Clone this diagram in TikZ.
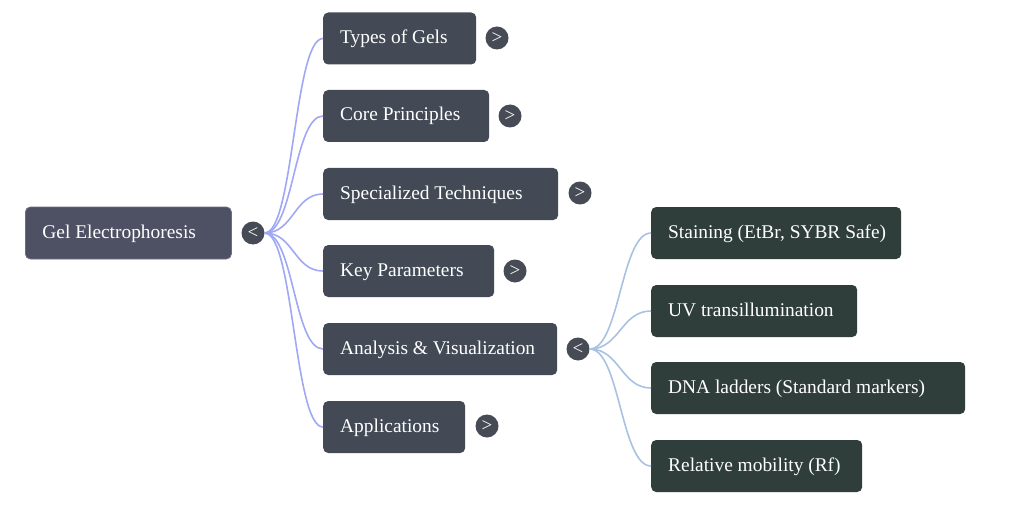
\documentclass[tikz,border=0pt]{standalone}
\usepackage{fontspec}
\setmainfont{Liberation Serif}
\usetikzlibrary{calc}
\definecolor{rootc}{HTML}{4E5064}
\definecolor{rootb}{HTML}{6C6E84}
\definecolor{lonec}{HTML}{434A55}
\definecolor{ltwoc}{HTML}{2F3E3A}
\definecolor{btnc}{HTML}{464B56}
\definecolor{eonec}{HTML}{A0A8F5}
\definecolor{etwoc}{HTML}{A8C2E2}
\newcommand{\lbl}[2]{\makebox[#1][l]{#2}}
\tikzset{
  basebox/.style={rounded corners=5pt, minimum height=52pt, inner xsep=17pt, inner ysep=0pt, anchor=west, text=white, text height=14pt, text depth=4pt, font=\fontsize{19.4}{22}\selectfont},
  rootbox/.style={basebox, fill=rootc, draw=rootb, line width=0.8pt},
  lvone/.style={basebox, fill=lonec},
  lvtwo/.style={basebox, fill=ltwoc},
  btn/.style={circle, fill=btnc, minimum size=23pt, inner sep=0pt, text=white, font=\fontsize{19}{19}\selectfont},
  eone/.style={draw=eonec, line width=1.6pt},
  etwo/.style={draw=etwoc, line width=1.6pt},
}
\begin{document}
\begin{tikzpicture}[x=1pt,y=-1pt]
\useasboundingbox (0,0) rectangle (1024,505);
% root
\node[rootbox] (root) at (25,233) {\lbl{172pt}{Gel Electrophoresis}};
\node[btn] (rb) at (253,233) {<};
% level 1
\node[lvone] (t1) at (323,38.5) {\lbl{119pt}{Types of Gels}};
\node[lvone] (t2) at (323,116) {\lbl{132pt}{Core Principles}};
\node[lvone] (t3) at (323,194) {\lbl{201pt}{Specialized Techniques}};
\node[lvone] (t4) at (323,271) {\lbl{137pt}{Key Parameters}};
\node[lvone] (t5) at (323,349) {\lbl{200pt}{Analysis \& Visualization}};
\node[lvone] (t6) at (323,427) {\lbl{108pt}{Applications}};
\node[btn] (b1) at (497,38) {>};
\node[btn] (b2) at (510,116) {>};
\node[btn] (b3) at (580,193) {>};
\node[btn] (b4) at (515,271) {>};
\node[btn] (b5) at (578,349) {<};
\node[btn] (b6) at (487,426) {>};
% level 2
\node[lvtwo] (s1) at (651,233) {\lbl{216pt}{Staining (EtBr, SYBR Safe)}};
\node[lvtwo] (s2) at (651,311) {\lbl{172pt}{UV transillumination}};
\node[lvtwo] (s3) at (651,388) {\lbl{280pt}{DNA ladders (Standard markers)}};
\node[lvtwo] (s4) at (651,466) {\lbl{177pt}{Relative mobility (Rf)}};
% edges
\foreach \n in {t1,t2,t3,t4,t5,t6}
  \draw[eone] (rb.east) .. controls ($(rb.east)+(29,0)$) and ($(\n.west)+(-29,0)$) .. (\n.west);
\foreach \n in {s1,s2,s3,s4}
  \draw[etwo] (b5.east) .. controls ($(b5.east)+(30,0)$) and ($(\n.west)+(-30,0)$) .. (\n.west);
\end{tikzpicture}
\end{document}
